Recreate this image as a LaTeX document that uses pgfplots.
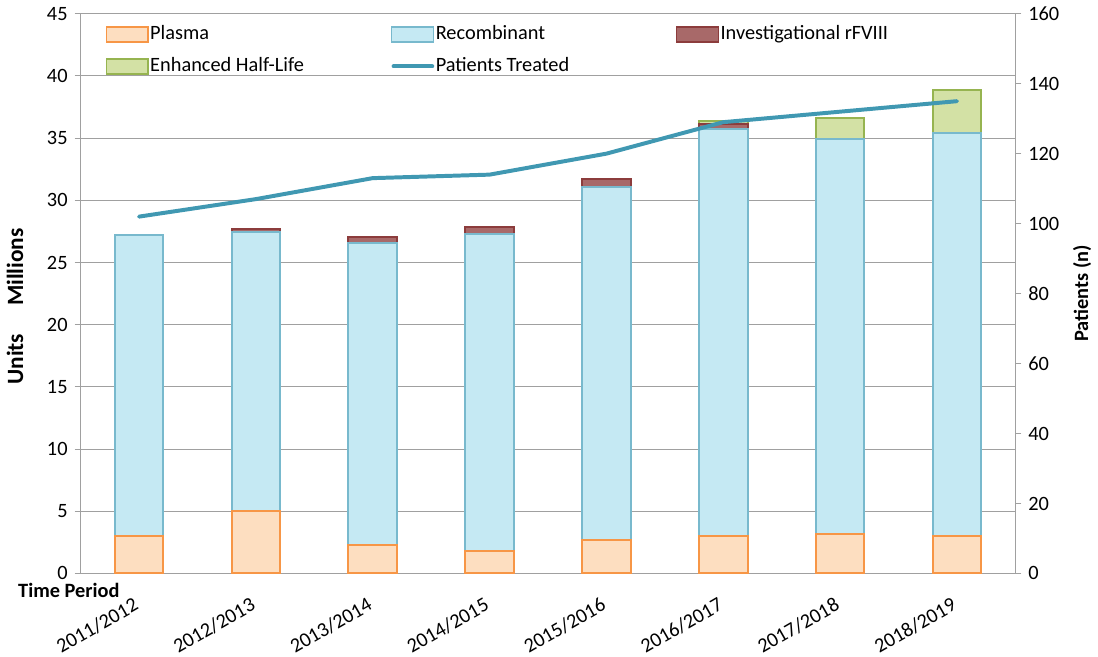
\documentclass[border=0pt]{standalone}
\usepackage{fontspec}
\setmainfont{Carlito}
\usepackage{pgfplots}
\pgfplotsset{compat=1.18}
\definecolor{plasmaF}{RGB}{253,222,192}
\definecolor{plasmaE}{RGB}{247,150,70}
\definecolor{recF}{RGB}{197,233,243}
\definecolor{recE}{RGB}{120,185,205}
\definecolor{invF}{RGB}{168,105,105}
\definecolor{invE}{RGB}{140,60,60}
\definecolor{ehlF}{RGB}{211,225,165}
\definecolor{ehlE}{RGB}{150,180,80}
\definecolor{lineC}{RGB}{64,152,178}
\definecolor{gridC}{RGB}{160,160,160}
\newcommand{\fs}{\fontsize{20.5}{24}\selectfont}

\begin{document}
\fs
\begin{tikzpicture}
\begin{axis}[
    name=main,
    scale only axis, width=942pt, height=564pt,
    clip=false,
    xmin=-0.5, xmax=7.5, ymin=0, ymax=45,
    ytick={0,5,...,45},
    xtick={0,...,7},
    xticklabels={2011/2012,2012/2013,2013/2014,2014/2015,2015/2016,2016/2017,2017/2018,2018/2019},
    xticklabel style={rotate=30, anchor=north east, inner sep=1pt, xshift=-13pt, yshift=-10.5pt},
    xtick style={draw=none},
    axis x line*=bottom, axis y line*=left,
    axis line style={gridC, line width=1pt},
    ytick style={gridC, line width=1pt},
    major tick length=6pt, tick align=outside,
    ymajorgrids, grid style={gridC, line width=1pt},
    /pgf/number format/assume math mode=true,
    tick label style={font=\fs},
    ylabel={\bfseries Units\hspace{28pt}Millions},
    ylabel style={font=\fontsize{23.5}{27}\selectfont, yshift=10pt, xshift=-13pt},
    legend columns=3,
    legend cell align=left,
    legend style={at={(rel axis cs:0,0.985)}, xshift=25pt, yshift=-2pt, anchor=north west,
        draw=none, fill=none, font=\fs,
        row sep=12pt, inner sep=0pt,
        nodes={inner sep=1.5pt},
        /tikz/column 2/.style={column sep=86pt},
        /tikz/column 4/.style={column sep=106pt}},
]
% cumulative tops of each stacked segment, tallest drawn first
\addplot[ybar, bar width=49pt, bar shift=0pt, forget plot, fill=ehlF, draw=ehlE, line width=2pt] coordinates {
  (5,36.4) (6,36.6) (7,38.9)};
\addplot[ybar, bar width=49pt, bar shift=0pt, forget plot, fill=invF, draw=invE, line width=2pt] coordinates {
  (1,27.7) (2,27.05) (3,27.85) (4,31.7) (5,36.15)};
\addplot[ybar, bar width=49pt, bar shift=0pt, forget plot, fill=recF, draw=recE, line width=2pt] coordinates {
  (0,27.2) (1,27.45) (2,26.6) (3,27.3) (4,31.1) (5,35.7) (6,34.9) (7,35.4)};
\addplot[ybar, bar width=49pt, bar shift=0pt, forget plot, fill=plasmaF, draw=plasmaE, line width=2pt] coordinates {
  (0,3.0) (1,5.0) (2,2.3) (3,1.8) (4,2.7) (5,3.0) (6,3.2) (7,3.0)};
\addlegendimage{legend image code/.code={\draw[fill=plasmaF, draw=plasmaE, line width=1.5pt] (0pt,-7.5pt) rectangle (42pt,7.5pt);}}
\addlegendentry{Plasma}
\addlegendimage{legend image code/.code={\draw[fill=recF, draw=recE, line width=1.5pt] (0pt,-7.5pt) rectangle (42pt,7.5pt);}}
\addlegendentry{Recombinant}
\addlegendimage{legend image code/.code={\draw[fill=invF, draw=invE, line width=1.5pt] (0pt,-7.5pt) rectangle (42pt,7.5pt);}}
\addlegendentry{Investigational rFVIII}
\addlegendimage{legend image code/.code={\draw[fill=ehlF, draw=ehlE, line width=1.5pt] (0pt,-7.5pt) rectangle (42pt,7.5pt);}}
\addlegendentry{Enhanced Half-Life}
\addlegendimage{legend image code/.code={\draw[lineC, line width=4pt, line cap=round] (2pt,0pt) -- (41pt,0pt);}}
\addlegendentry{Patients Treated}
\node[anchor=west, font=\bfseries\fs, inner sep=0pt]
  at (rel axis cs:0,0) [xshift=-63pt, yshift=-17pt] {Time Period};
\end{axis}
\begin{axis}[
    scale only axis, width=942pt, height=564pt,
    xmin=-0.5, xmax=7.5, ymin=0, ymax=160,
    ytick={0,20,...,160},
    axis x line=none, axis y line*=right,
    axis line style={gridC, line width=1pt},
    ytick style={gridC, line width=1pt},
    major tick length=6pt, tick align=outside,
    /pgf/number format/assume math mode=true,
    tick label style={font=\fs},
    ylabel={\bfseries Patients (n)},
    ylabel style={font=\fs},
]
\addplot[lineC, line width=4pt, line cap=round, no marks] coordinates {
  (0,102) (1,107) (2,113) (3,114) (4,120) (5,129) (6,132) (7,135)};
\end{axis}
\path ([xshift=-78pt]main.south west) -- ([xshift=78pt]main.south east);
\end{tikzpicture}
\end{document}
